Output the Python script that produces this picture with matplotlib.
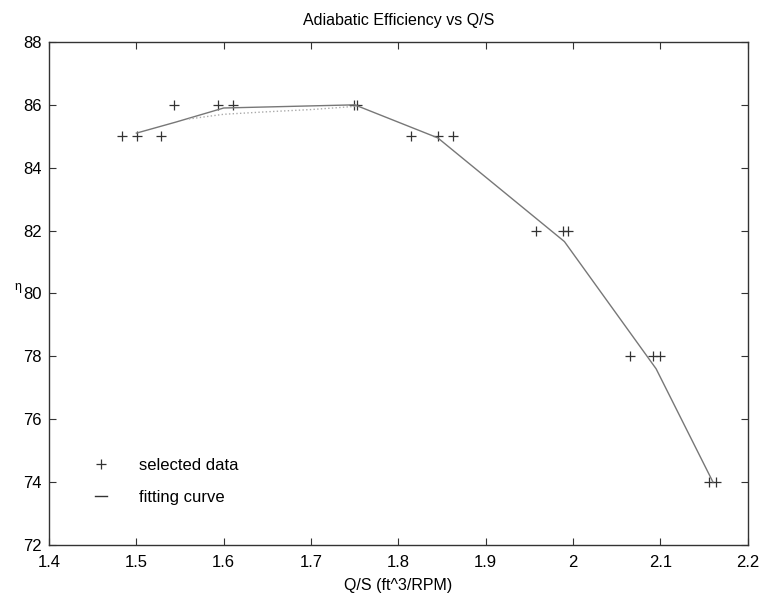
import matplotlib
matplotlib.use("Agg")
import matplotlib.pyplot as plt

# selected data
qs = [1.484, 1.501, 1.528, 1.543, 1.593, 1.611, 1.749, 1.752, 1.814, 1.845, 1.862,
      1.958, 1.988, 1.994, 2.065, 2.092, 2.099, 2.156, 2.164]
eff = [85, 85, 85, 86, 86, 86, 86, 86, 85, 85, 85,
       82, 82, 82, 78, 78, 78, 74, 74]

# fitting curve vertices
fit_x = [1.500, 1.545, 1.600, 1.750, 1.845, 1.990, 2.095, 2.160]
fit_y = [85.1, 85.45, 85.9, 86.0, 84.95, 81.65, 77.6, 74.0]

# secondary (dotted) fit
fit2_x = [1.56, 1.60, 1.65, 1.70, 1.75]
fit2_y = [85.55, 85.7, 85.78, 85.85, 85.95]

plt.rcParams['font.family'] = ['Liberation Sans', 'DejaVu Sans']

fig = plt.figure(figsize=(7.6, 6.0), dpi=100)
ax = fig.add_axes([0.0645, 0.092, 0.9195, 0.838])

ax.plot(qs, eff, linestyle='none', marker='+', color='#333333', markersize=6.5,
        markeredgewidth=0.9, label='selected data')
ax.plot(fit_x, fit_y, '-', color='#777777', linewidth=1.0, label='fitting curve')
ax.plot(fit2_x, fit2_y, ':', color='#aaaaaa', linewidth=1.0)

ax.set_xlim(1.4, 2.2)
ax.set_ylim(72, 88)
ax.set_xticks([1.4, 1.5, 1.6, 1.7, 1.8, 1.9, 2.0, 2.1, 2.2])
ax.set_xticklabels(['1.4', '1.5', '1.6', '1.7', '1.8', '1.9', '2', '2.1', '2.2'])
ax.set_yticks(range(72, 89, 2))
ax.tick_params(direction='in', top=True, right=True, labelsize=12, length=5,
               color='#333333', pad=5)
ax.tick_params(axis='x', pad=7)
for s in ax.spines.values():
    s.set_color('#333333')
    s.set_linewidth(1.0)

ax.set_title('Adiabatic Efficiency vs Q/S', fontsize=11.5, pad=12)
ax.set_xlabel('Q/S (ft^3/RPM)', fontsize=11.5, labelpad=6)
ax.set_ylabel('η', fontsize=9, rotation=0, labelpad=4)

leg = ax.legend(loc='lower left', bbox_to_anchor=(0.045, 0.05), frameon=False,
                fontsize=12, handlelength=0.7, handletextpad=1.9, labelspacing=1.0)
leg.legend_handles[1].set_color('#333333')

fig.savefig('out.png', dpi=100)
